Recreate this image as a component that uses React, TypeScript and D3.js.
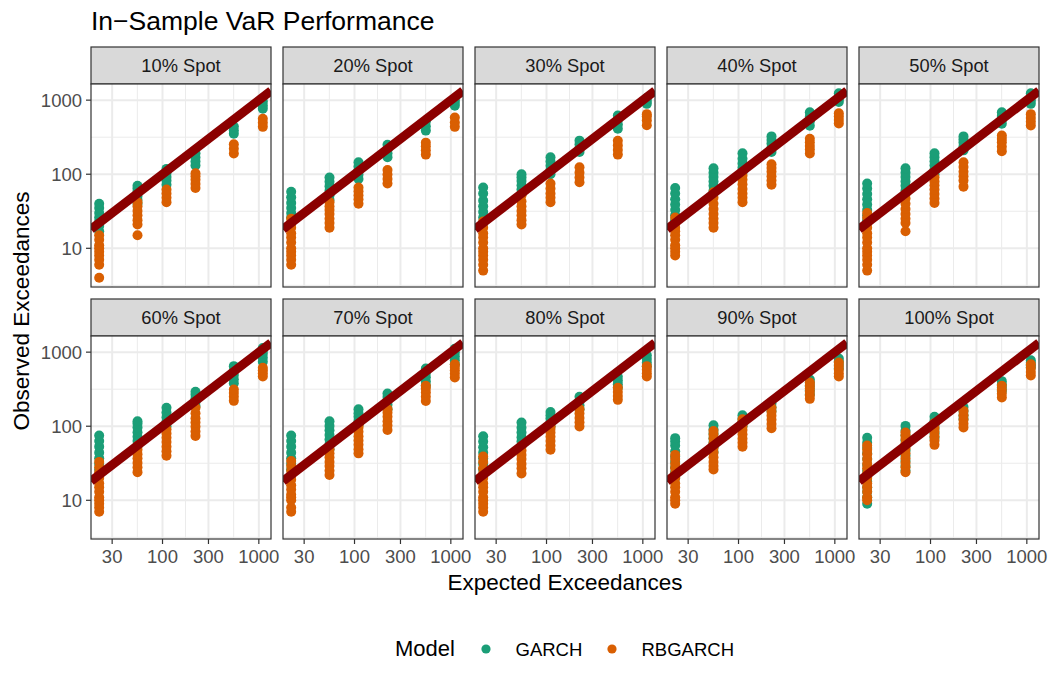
import * as d3 from "d3";

// expected exceedances for each VaR level (x positions)
const expected = [22, 55, 110, 220, 550, 1100];

const spots = [
  "10% Spot", "20% Spot", "30% Spot", "40% Spot", "50% Spot",
  "60% Spot", "70% Spot", "80% Spot", "90% Spot", "100% Spot",
];

const models = ["GARCH", "RBGARCH"];
const modelColors = ["#1B9E77", "#D95F02"];

const xTicks = [30, 100, 300, 1000];
const yTicks = [10, 100, 1000];

// observed exceedances, one inner array per expected level
const garch10 = [
  [17, 20, 23, 26, 30, 35, 40],
  [40, 45, 51, 58, 64, 70],
  [72, 82, 92, 104, 118],
  [131, 148, 168, 192],
  [351, 392, 440],
  [764, 850, 958],
];
const rbgarch10 = [
  [4, 6, 7, 8, 9, 10, 11, 13, 15],
  [15, 21, 24, 28, 32, 37, 42],
  [42, 48, 55, 62],
  [65, 74, 84, 94, 103],
  [190, 220, 254],
  [436, 495, 560],
];

const garch20 = [
  [22, 26, 30, 35, 41, 49, 58],
  [45, 52, 60, 69, 79, 90],
  [86, 98, 112, 127, 145],
  [170, 192, 218, 249],
  [388, 445, 515],
  [838, 915, 1000],
];
const rbgarch20 = [
  [6, 7, 8, 9, 10, 12, 14, 16, 19, 22, 25],
  [19, 22, 25, 29, 33, 37, 42],
  [40, 46, 52, 59, 66],
  [75, 86, 99, 114],
  [184, 210, 238, 267],
  [436, 500, 584],
];

const garch30 = [
  [22, 26, 31, 37, 44, 55, 66],
  [54, 62, 71, 81, 90, 100],
  [100, 114, 130, 148, 169],
  [200, 225, 253, 284],
  [410, 470, 540, 621],
  [891, 975, 1070],
];
const rbgarch30 = [
  [5, 6, 7, 8, 9, 10, 12, 14, 16, 19, 23],
  [21, 24, 28, 32, 37, 43, 52],
  [42, 48, 55, 64, 75],
  [78, 90, 105, 124],
  [184, 212, 245, 282],
  [459, 530, 600, 647],
];

const garch40 = [
  [24, 28, 33, 39, 46, 55, 65],
  [60, 70, 80, 92, 105, 120],
  [106, 122, 140, 162, 192],
  [200, 228, 260, 290, 324],
  [452, 520, 600, 688],
  [942, 1030, 1130, 1240],
];
const rbgarch40 = [
  [8, 9, 10, 11, 13, 15, 17, 19, 22, 26],
  [19, 22, 25, 29, 34, 40, 48, 57],
  [42, 48, 55, 63, 73, 84, 96],
  [72, 82, 94, 108, 121, 136],
  [190, 215, 240, 270, 301],
  [485, 540, 600, 667],
];

const garch50 = [
  [24, 28, 33, 39, 46, 54, 64, 75],
  [60, 70, 80, 92, 105, 120],
  [100, 115, 132, 150, 170, 192],
  [210, 238, 268, 295, 324],
  [479, 540, 610, 688],
  [891, 990, 1110, 1240],
];
const rbgarch50 = [
  [5, 6, 7, 8, 9, 10, 12, 14, 16, 19, 22, 26, 30],
  [17, 22, 25, 29, 34, 40, 47, 54],
  [41, 47, 54, 62, 71, 80, 91],
  [68, 82, 94, 108, 125, 145],
  [205, 235, 270, 300, 334],
  [454, 510, 575, 647],
];

const garch60 = [
  [22, 26, 31, 37, 44, 53, 63, 75],
  [55, 63, 72, 83, 96, 108, 117],
  [100, 115, 132, 153, 178],
  [188, 212, 238, 265, 291],
  [380, 430, 490, 560, 647],
  [740, 840, 950, 1050, 1140],
];
const rbgarch60 = [
  [7, 8, 9, 10, 11, 13, 15, 17, 20, 24, 28, 33],
  [24, 28, 32, 37, 42, 48, 54],
  [40, 46, 53, 61, 70, 80, 91],
  [74, 85, 98, 112, 128, 150, 178],
  [220, 250, 280, 313],
  [468, 520, 570, 614],
];

const garch70 = [
  [22, 26, 31, 37, 44, 53, 63, 75],
  [49, 57, 66, 76, 88, 101, 117],
  [104, 118, 134, 150, 169],
  [170, 195, 220, 248, 276],
  [351, 400, 460, 525, 600],
  [687, 780, 880, 990, 1110],
];
const rbgarch70 = [
  [7, 8, 10, 11, 12, 14, 16, 19, 22, 25, 29, 34],
  [22, 25, 29, 33, 38, 43, 49],
  [43, 49, 56, 64, 73, 84, 96, 104],
  [89, 102, 117, 134, 152, 170],
  [219, 250, 285, 320, 351],
  [454, 510, 570, 630, 687],
];

const garch80 = [
  [22, 26, 31, 37, 44, 52, 62, 73],
  [54, 62, 71, 82, 95, 112],
  [100, 113, 127, 141, 156],
  [170, 192, 218, 249],
  [330, 370, 415, 465],
  [647, 720, 810, 907],
];
const rbgarch80 = [
  [7, 8, 9, 10, 11, 13, 15, 17, 20, 23, 27, 33, 39],
  [23, 27, 31, 36, 41, 47, 54],
  [48, 55, 63, 72, 82, 92, 100],
  [99, 113, 129, 148, 170],
  [227, 255, 290, 330],
  [468, 520, 580, 647],
];

const garch90 = [
  [20, 24, 28, 33, 39, 46, 55, 62, 69],
  [45, 52, 60, 69, 79, 90, 103],
  [100, 113, 126, 141],
  [160, 180, 202],
  [271, 305, 345, 385, 428],
  [600, 670, 745, 821],
];
const rbgarch90 = [
  [9, 10, 11, 13, 15, 17, 20, 23, 27, 31, 36, 41],
  [26, 29, 33, 38, 44, 51, 59, 68, 77, 86],
  [53, 60, 68, 78, 89, 101, 113, 124],
  [94, 107, 122, 139, 157, 178],
  [234, 262, 292, 325, 358, 390],
  [468, 520, 580, 650, 725],
];

const garch100 = [
  [9, 11, 13, 15, 18, 21, 25, 30, 36, 43, 51, 60, 70],
  [25, 29, 34, 40, 47, 55, 64, 75, 87, 101],
  [70, 80, 92, 105, 119, 134],
  [125, 140, 160, 182],
  [300, 330, 365, 406],
  [620, 665, 720, 778],
];
const rbgarch100 = [
  [10, 11, 13, 15, 17, 20, 23, 27, 31, 36, 42, 48, 55],
  [24, 28, 32, 37, 43, 50, 58, 67, 75, 82],
  [56, 64, 73, 84, 96, 110],
  [96, 108, 122, 140, 161],
  [244, 275, 310, 351],
  [485, 540, 610, 687],
];

const garchBySpot = [
  garch10, garch20, garch30, garch40, garch50,
  garch60, garch70, garch80, garch90, garch100,
];
const rbgarchBySpot = [
  rbgarch10, rbgarch20, rbgarch30, rbgarch40, rbgarch50,
  rbgarch60, rbgarch70, rbgarch80, rbgarch90, rbgarch100,
];

type Pt = { x: number; y: number; model: number };

const panelPoints: Pt[][] = spots.map((_, s) => {
  const pts: Pt[] = [];
  [garchBySpot[s], rbgarchBySpot[s]].forEach((groups, m) => {
    groups.forEach((vals, i) => {
      vals.forEach((v) => pts.push({ x: expected[i], y: v, model: m }));
    });
  });
  return pts;
});

// ggplot-style 5% expansion in log space
function expandLog([a, b]: [number, number]): [number, number] {
  const la = Math.log10(a);
  const lb = Math.log10(b);
  const pad = (lb - la) * 0.05;
  return [10 ** (la - pad), 10 ** (lb + pad)];
}

// minor breaks sit halfway (in log space) between majors
function minorBreaks(majors: number[], domain: [number, number]) {
  const logs = majors.map(Math.log10);
  const step = logs[1] - logs[0];
  const ext = [logs[0] - step, ...logs, logs[logs.length - 1] + step];
  const out: number[] = [];
  for (let i = 0; i < ext.length - 1; i++) {
    const v = 10 ** ((ext[i] + ext[i + 1]) / 2);
    if (v > domain[0] && v < domain[1]) out.push(v);
  }
  return out;
}

const W = 1050;
const H = 690;
const panelLeft = 91;
const panelW = 180;
const colGap = 12;
const stripTop = 47;
const stripH = 37;
const panelH = 203;
const rowGap = 12;
const font = "'Liberation Sans', Arial, Helvetica, sans-serif";

export default function App() {
  const allY = panelPoints.flat().map((d) => d.y);
  const xDomain = expandLog(d3.extent(expected) as [number, number]);
  const yDomain = expandLog(d3.extent(allY) as [number, number]);

  const x = d3.scaleLog().domain(xDomain).range([0, panelW]);
  const y = d3.scaleLog().domain(yDomain).range([panelH, 0]);

  const xMinor = minorBreaks([10, 30, 100, 300, 1000, 3000], xDomain);
  const yMinor = minorBreaks([1, 10, 100, 1000], yDomain).filter(
    (v) => Math.abs(Math.log10(v) - Math.round(Math.log10(v))) > 0.1
  );

  const lineX = [xDomain[0], xDomain[1]];

  return (
    <svg
      width={W}
      height={H}
      style={{ position: "absolute", left: 0, top: 0, background: "#fff" }}
      fontFamily={font}
    >
      <text x={91} y={30} fontSize={26.5} fill="#000">
        In−Sample VaR Performance
      </text>

      {spots.map((label, s) => {
        const col = s % 5;
        const row = Math.floor(s / 5);
        const left = panelLeft + col * (panelW + colGap);
        const top = stripTop + row * (stripH + panelH + rowGap);
        const pTop = top + stripH;
        return (
          <g key={label}>
            <rect
              x={left}
              y={top}
              width={panelW}
              height={stripH}
              fill="#D9D9D9"
              stroke="#333333"
              strokeWidth={1.2}
            />
            <text
              x={left + panelW / 2}
              y={top + stripH / 2 + 6.5}
              textAnchor="middle"
              fontSize={18.3}
              fill="#1A1A1A"
            >
              {label}
            </text>
            <g transform={`translate(${left},${pTop})`}>
              <clipPath id={`clip-${s}`}>
                <rect width={panelW} height={panelH} />
              </clipPath>
              <rect width={panelW} height={panelH} fill="#fff" />
              {xMinor.map((v) => (
                <line key={`xm${v}`} x1={x(v)} x2={x(v)} y1={0} y2={panelH} stroke="#EBEBEB" strokeWidth={1} />
              ))}
              {yMinor.map((v) => (
                <line key={`ym${v}`} x1={0} x2={panelW} y1={y(v)} y2={y(v)} stroke="#EBEBEB" strokeWidth={1} />
              ))}
              {xTicks.map((v) => (
                <line key={`xM${v}`} x1={x(v)} x2={x(v)} y1={0} y2={panelH} stroke="#EBEBEB" strokeWidth={2} />
              ))}
              {yTicks.map((v) => (
                <line key={`yM${v}`} x1={0} x2={panelW} y1={y(v)} y2={y(v)} stroke="#EBEBEB" strokeWidth={2} />
              ))}
              <g clipPath={`url(#clip-${s})`}>
                {panelPoints[s].map((d, i) => (
                  <circle
                    key={i}
                    cx={x(d.x)}
                    cy={y(d.y)}
                    r={5}
                    fill={modelColors[d.model]}
                  />
                ))}
                <line
                  x1={x(lineX[0])}
                  y1={y(lineX[0])}
                  x2={x(lineX[1])}
                  y2={y(lineX[1])}
                  stroke="#8B0000"
                  strokeWidth={9}
                />
              </g>
              <rect
                width={panelW}
                height={panelH}
                fill="none"
                stroke="#333333"
                strokeWidth={1.2}
              />
              {col === 0 &&
                yTicks.map((v) => (
                  <g key={`yt${v}`}>
                    <line x1={-5} x2={0} y1={y(v)} y2={y(v)} stroke="#333333" strokeWidth={1.2} />
                    <text
                      x={-9}
                      y={y(v)}
                      dy="0.36em"
                      textAnchor="end"
                      fontSize={18.5}
                      fill="#4D4D4D"
                    >
                      {v}
                    </text>
                  </g>
                ))}
              {row === 1 &&
                xTicks.map((v) => (
                  <g key={`xt${v}`}>
                    <line x1={x(v)} x2={x(v)} y1={panelH} y2={panelH + 5} stroke="#333333" strokeWidth={1.2} />
                    <text
                      x={x(v)}
                      y={panelH + 24}
                      textAnchor="middle"
                      fontSize={18.5}
                      fill="#4D4D4D"
                    >
                      {v}
                    </text>
                  </g>
                ))}
            </g>
          </g>
        );
      })}

      <text x={565} y={590} textAnchor="middle" fontSize={22.5} fill="#000">
        Expected Exceedances
      </text>
      <text
        transform="translate(29,311) rotate(-90)"
        textAnchor="middle"
        fontSize={22.5}
        fill="#000"
      >
        Observed Exceedances
      </text>

      <text x={395} y={656} fontSize={22} fill="#000">
        Model
      </text>
      {models.map((m, i) => {
        const dx = [486, 612][i];
        return (
          <g key={m}>
            <circle cx={dx} cy={649} r={4.6} fill={modelColors[i]} />
            <text x={dx + 29.5} y={655.5} fontSize={18.5} fill="#000">
              {m}
            </text>
          </g>
        );
      })}
    </svg>
  );
}
